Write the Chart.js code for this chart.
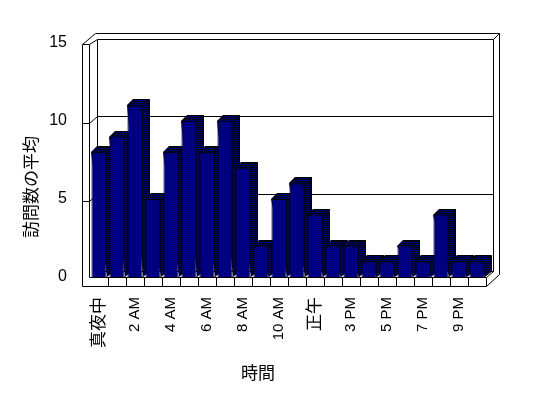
<!DOCTYPE html>
<html>
<head>
<meta charset="utf-8">
<script src="https://cdn.jsdelivr.net/npm/chart.js@4.4.0/dist/chart.umd.min.js"></script>
<style>
  html, body { margin: 0; padding: 0; background: #fff; }
  canvas { display: block; }
</style>
</head>
<body>
<canvas id="visitsChart" width="548" height="398"></canvas>
<script>
const hours = ['真夜中', '1 AM', '2 AM', '3 AM', '4 AM', '5 AM', '6 AM', '7 AM', '8 AM', '9 AM', '10 AM', '11 AM',
  '正午', '2 PM', '3 PM', '4 PM', '5 PM', '6 PM', '7 PM', '8 PM', '9 PM', '10 PM'];
const visits = [8, 9, 11, 5, 8, 10, 8, 10, 7, 2, 5, 6, 4, 2, 2, 1, 1, 2, 1, 4, 1, 1];
const yTicks = [0, 5, 10, 15];
const xTitle = '時間';
const yTitle = '訪問数の平均';

const FONT = "'Liberation Sans', 'Noto Sans CJK JP', sans-serif";
const DX = 6, DY = 6;

// dithered navy/black fill for bar tops and sides
function makeDither(ctx) {
  const c = document.createElement('canvas');
  c.width = 2; c.height = 2;
  const p = c.getContext('2d');
  p.fillStyle = '#000000'; p.fillRect(0, 0, 2, 2);
  p.fillStyle = '#000080'; p.fillRect(0, 0, 1, 1); p.fillRect(1, 1, 1, 1);
  return ctx.createPattern(c, 'repeat');
}

function line(ctx, pts) {
  ctx.beginPath();
  ctx.moveTo(Math.round(pts[0][0]) + 0.5, Math.round(pts[0][1]) + 0.5);
  for (let i = 1; i < pts.length; i++) ctx.lineTo(Math.round(pts[i][0]) + 0.5, Math.round(pts[i][1]) + 0.5);
  ctx.stroke();
}

const walls = {
  id: 'walls',
  beforeDatasetsDraw(chart) {
    const { ctx, chartArea: a, scales: { x, y } } = chart;
    const L = a.left, R = a.right, B = a.bottom;
    const backBottom = B - 6, backTop = a.top - 4;
    const yb = v => backBottom - (backBottom - backTop) * v / 15;
    const xo = L - 8, xi = L - 1, xb = L + 7, xr = R + 7;
    ctx.save();
    ctx.strokeStyle = '#000';
    ctx.lineWidth = 1;
    // back wall
    line(ctx, [[xb, yb(0)], [xb, yb(15)], [xr, yb(15)], [xr, yb(0)], [xb, yb(0)]]);
    line(ctx, [[xb - 2, yb(15) - 6], [xr + 6, yb(15) - 6], [xr + 6, backBottom + 3]]);
    line(ctx, [[xr, yb(15)], [xr + 6, yb(15) - 6]]);
    // left wall
    const lTop = a.top + 1;
    line(ctx, [[xo, B + 9], [xo, lTop], [xi, lTop], [xi, B]]);
    line(ctx, [[xo, lTop], [xb - 2, yb(15) - 6]]);
    line(ctx, [[xi, lTop], [xb, yb(15)]]);
    yTicks.filter(v => v > 0 && v < 15).forEach(v => {
      const yl = y.getPixelForValue(v) + 2;
      line(ctx, [[xo, yl], [xi, yl], [xb, yb(v)], [xr, yb(v)]]);
    });
    // floor
    line(ctx, [[xo, B + 9], [R, B + 9], [xr + 6, backBottom + 3]]);
    line(ctx, [[xi, B], [R, B], [xr, yb(0)]]);
    line(ctx, [[R, B], [R, B + 9]]);
    for (let i = 1; i < hours.length; i++) {
      const bx = (x.getPixelForValue(i - 1) + x.getPixelForValue(i)) / 2;
      line(ctx, [[bx, B], [bx, B + 9]]);
    }
    ctx.restore();
  },
  beforeDatasetDraw(chart, args) {
    const { ctx } = chart;
    const dither = makeDither(ctx);
    const meta = args.meta;
    ctx.save();
    meta.data.forEach(bar => {
      const { x, y, base, width } = bar.getProps(['x', 'y', 'base', 'width'], true);
      const l = Math.round(x - width / 2), r = Math.round(x + width / 2);
      const t = Math.round(y), b = Math.round(base);
      ctx.fillStyle = dither;
      ctx.strokeStyle = '#000';
      ctx.lineWidth = 1;
      ctx.beginPath();
      ctx.moveTo(l, t); ctx.lineTo(l + DX, t - DY); ctx.lineTo(r + DX, t - DY);
      ctx.lineTo(r + DX, b - DY); ctx.lineTo(r, b); ctx.closePath();
      ctx.fill();
      line(ctx, [[l, t], [l + DX, t - DY], [r + DX, t - DY], [r + DX, b - DY], [r - 1, b - 1]]);
      line(ctx, [[r - 1, t], [r + DX, t - DY]]);
      bar.draw(ctx, chart.chartArea);
    });
    ctx.restore();
    return false;
  },
  afterDraw(chart) {
    const { ctx } = chart;
    ctx.save();
    ctx.fillStyle = '#000';
    ctx.font = '17px ' + FONT;
    ctx.textAlign = 'center';
    ctx.textBaseline = 'middle';
    ctx.fillText(xTitle, 258, 374);
    ctx.translate(32, 187);
    ctx.rotate(-Math.PI / 2);
    ctx.fillText(yTitle, 0, 0);
    ctx.restore();
  }
};

new Chart(document.getElementById('visitsChart'), {
  type: 'bar',
  data: {
    labels: hours,
    datasets: [{
      data: visits,
      backgroundColor: '#000080',
      borderColor: '#000000',
      borderWidth: 1,
      barPercentage: 0.84,
      categoryPercentage: 1
    }]
  },
  options: {
    responsive: false,
    animation: false,
    devicePixelRatio: 1,
    layout: { padding: { top: 43, right: 62, left: 0, bottom: 0 } },
    plugins: { legend: { display: false }, tooltip: { enabled: false } },
    scales: {
      x: {
        afterFit: s => { s.height = 121; },
        grid: { display: false, drawTicks: false },
        border: { display: false },
        ticks: {
          autoSkip: false,
          minRotation: 90,
          maxRotation: 90,
          padding: 20,
          color: '#000',
          font: c => ({ family: FONT, size: /[^\x00-\x7f]/.test(hours[c.index] || '') ? 17 : 15 }),
          callback: (v, i) => (i % 2 === 0 ? hours[i] : '')
        }
      },
      y: {
        min: 0,
        max: 15,
        afterFit: s => { s.width = 90; },
        afterBuildTicks: s => { s.ticks = yTicks.map(v => ({ value: v })); },
        grid: { display: false, drawTicks: false },
        border: { display: false },
        ticks: { padding: 23, color: '#000', font: { family: FONT, size: 16 } }
      }
    }
  },
  plugins: [walls]
});
</script>
</body>
</html>
